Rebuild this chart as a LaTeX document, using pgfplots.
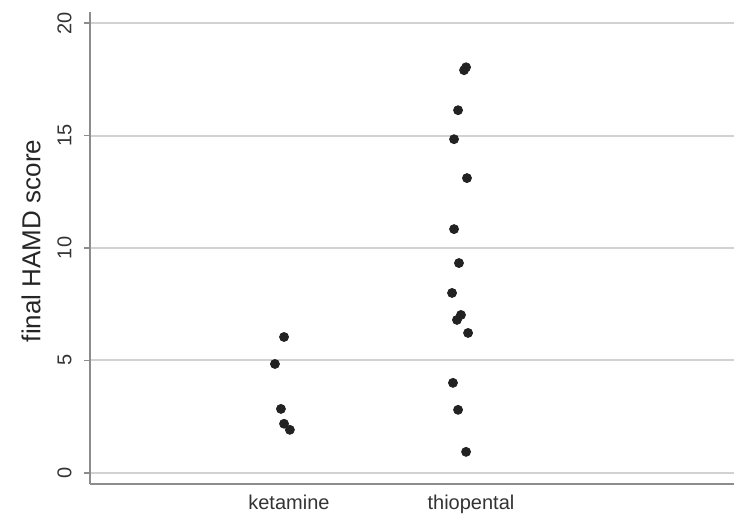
\documentclass[border=0pt]{standalone}
\usepackage{pgfplots}
\pgfplotsset{compat=1.18}
\usepackage{fontspec}
\setmainfont{Liberation Sans}
\definecolor{dotc}{HTML}{222222}
\definecolor{gridc}{HTML}{D2D2D2}
\definecolor{spinec}{HTML}{8C8C8C}
\begin{document}
\begin{tikzpicture}
\begin{axis}[
  name=ax,
  scale only axis,
  width=322pt, height=236pt,
  xmin=-0.093, xmax=3.445,
  ymin=-0.5, ymax=20.5,
  axis x line*=bottom,
  axis y line*=left,
  axis line style={spinec, line width=1pt},
  xtick={1,2},
  xticklabels={ketamine,thiopental},
  x tick style={draw=none},
  xticklabel style={font=\fontsize{10}{12}\selectfont, color=black!80, yshift=1pt},
  ytick={0,5,10,15,20},
  y tick style={spinec, line width=0.8pt},
  tick align=outside,
  major tick length=3pt,
  yticklabel style={rotate=90, anchor=south, font=\fontsize{10}{12}\selectfont, color=black!80, inner sep=2pt, yshift=4pt},
  /pgf/number format/assume math mode=true,
  ymajorgrids,
  grid style={gridc, line width=1pt},
  ylabel={final HAMD score},
  ylabel style={at={(axis description cs:-0.0916,0.515)}, anchor=center, font=\fontsize{13}{15}\selectfont, color=black!85},
]
\addplot[only marks, mark=*, mark size=2.25pt, color=dotc] coordinates {
  (0.973,6.04) (0.923,4.84) (0.956,2.84) (0.973,2.18) (1.005,1.91)
};
\addplot[only marks, mark=*, mark size=2.25pt, color=dotc] coordinates {
  (1.962,17.91) (1.973,18.04) (1.929,16.13) (1.907,14.84) (1.978,13.11)
  (1.907,10.84) (1.934,9.33) (1.896,8.00) (1.923,6.80) (1.945,7.02)
  (1.984,6.22) (1.901,4.00) (1.929,2.80) (1.973,0.93)
};
\end{axis}
\pgfresetboundingbox
\path ([xshift=-45pt,yshift=-16.5pt]ax.south west) rectangle ([yshift=6pt]ax.north east);
\end{tikzpicture}
\end{document}
